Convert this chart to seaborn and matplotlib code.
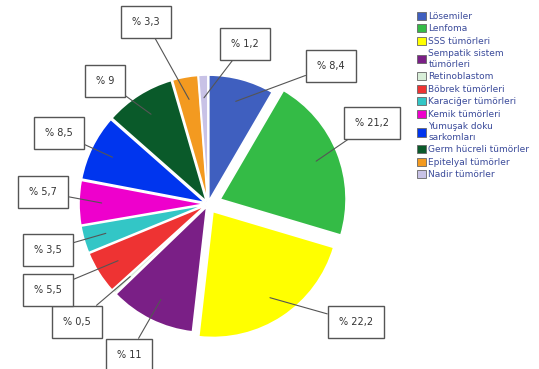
import matplotlib
matplotlib.use("Agg")
import matplotlib.pyplot as plt
import seaborn as sns
import numpy as np

# Childhood cancer distribution (%)
categories = ["Lösemiler", "Lenfoma", "SSS tümörleri", "Sempatik sistem\ntümörleri",
              "Retinoblastom", "Böbrek tümörleri", "Karaciğer tümörleri", "Kemik tümörleri",
              "Yumuşak doku\nsarkomları", "Germ hücreli tümörler", "Epitelyal tümörler",
              "Nadir tümörler"]
values = [8.4, 21.2, 22.2, 11, 0.5, 5.5, 3.5, 5.7, 8.5, 9, 3.3, 1.2]
value_labels = ["% 8,4", "% 21,2", "% 22,2", "% 11", "% 0,5", "% 5,5", "% 3,5",
                "% 5,7", "% 8,5", "% 9", "% 3,3", "% 1,2"]

colors = ["#3f5fbf", "#34bb46", "#ffff00", "#7a1f86", "#d8eed8", "#ee3333",
          "#33c6c6", "#ee00cc", "#0035ee", "#0a5a2a", "#f39a20", "#c8c2e6"]
# explode offsets in pixels (pie explode is not scaled by radius)
explode = [3, 13, 9, 3, 3, 3, 3, 3, 3, 3, 3, 3]

# label box centres in pixel coords (x, y from top)
box_pos = [(331, 66), (372, 123), (356, 322), (129, 355), (77, 322), (48, 290),
           (48, 250), (43, 192), (59, 133), (105, 81), (146, 22), (245, 44)]

W, H = 539, 369
cx, cy, r = 208, H - 204, 126

sns.set_theme(style="white")
plt.rcParams['font.family'] = ['DejaVu Sans']

fig = plt.figure(figsize=(W / 100, H / 100), dpi=100)
ax = fig.add_axes([0, 0, 1, 1])

wedges, _ = ax.pie(values, colors=colors, explode=explode, startangle=90,
                   counterclock=False, center=(cx, cy), radius=r,
                   wedgeprops=dict(edgecolor="white", linewidth=1.2))

for w, lab, (bx, by), ex in zip(wedges, value_labels, box_pos, explode):
    ang = np.deg2rad((w.theta1 + w.theta2) / 2)
    rr = r * 0.82 + ex
    px, py = cx + rr * np.cos(ang), cy + rr * np.sin(ang)
    ax.annotate(lab, xy=(px, py), xytext=(bx, H - by), ha="center", va="center",
                fontsize=7, color="#333333",
                bbox=dict(boxstyle="square,pad=1.15", fc="white", ec="#555555", lw=1),
                arrowprops=dict(arrowstyle="-", color="#555555", lw=0.8,
                                shrinkA=0, shrinkB=0))

ax.set_xlim(0, W)
ax.set_ylim(0, H)
ax.set_aspect("equal")
ax.axis("off")

leg = ax.legend(wedges, categories, loc="upper left", bbox_to_anchor=(413 / W, 1 - 8 / H),
                frameon=False, fontsize=6.5, labelspacing=0.38, handlelength=1.0,
                handleheight=1.0, handletextpad=0.3, borderaxespad=0)
for t in leg.get_texts():
    t.set_color("#3a4a9a")
for h in leg.legend_handles:
    h.set_edgecolor("#666666")
    h.set_linewidth(0.6)

fig.savefig("out.png", dpi=100)
